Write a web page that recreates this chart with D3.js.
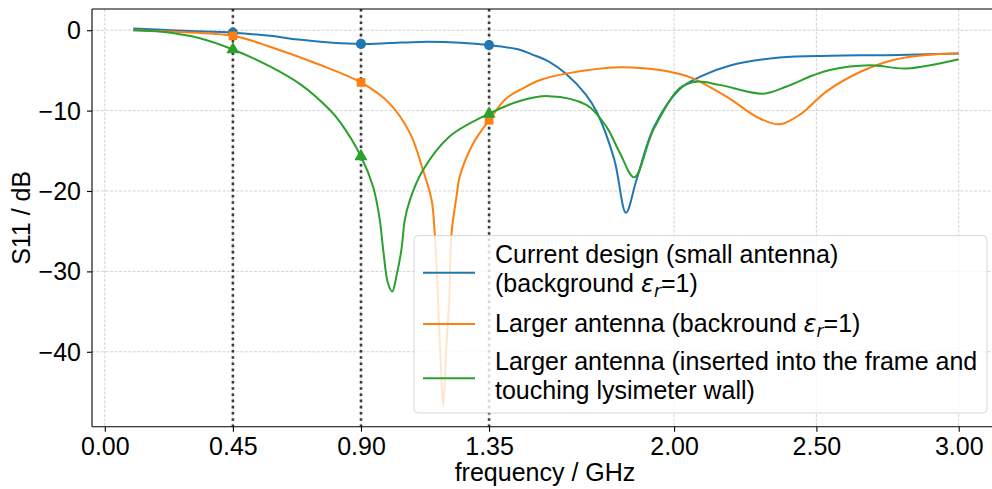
<!DOCTYPE html>
<html lang="en">
<head>
  <meta charset="UTF-8">
  <title>S11 comparison</title>
  <script src="https://cdn.jsdelivr.net/npm/d3@7"></script>
  <style>
    body { margin: 0; background: #fff; }
    svg text { font-family: "Liberation Sans", Arial, sans-serif; fill: #000; }
  </style>
</head>
<body>
<div id="chart"></div>
<script>
  // data (frequency in GHz, S11 in dB)
  var blueFreq = [0.10, 0.20, 0.30, 0.45, 0.58, 0.69, 0.80, 0.90, 1.00, 1.11, 1.25, 1.35, 1.46, 1.50, 1.56, 1.62, 1.69, 1.73, 1.79, 1.831, 1.868, 1.93, 2.02, 2.09, 2.20, 2.37, 2.55, 2.75, 3.00];
  var blueS11  = [0.2, 0.05, -0.1, -0.3, -0.7, -1.2, -1.55, -1.7, -1.6, -1.45, -1.55, -1.85, -2.45, -3.0, -3.9, -5.4, -8.0, -10.3, -16.1, -22.7, -18.6, -12.0, -7.3, -5.8, -4.35, -3.4, -3.17, -3.1, -2.9];

  var orangeFreq = [0.10, 0.25, 0.45, 0.58, 0.755, 0.90, 1.00, 1.072, 1.118, 1.148, 1.159, 1.171, 1.178, 1.189, 1.199, 1.21, 1.218, 1.236, 1.247, 1.294, 1.35, 1.41, 1.46, 1.53, 1.62, 1.81, 1.95, 2.02, 2.066, 2.184, 2.30, 2.372, 2.442, 2.536, 2.653, 2.77, 2.887, 3.00];
  var orangeS11  = [0.0, -0.2, -0.7, -2.05, -4.3, -6.5, -9.1, -12.8, -17.4, -21.1, -25.2, -33.6, -39.8, -46.8, -39.8, -33.6, -25.3, -20.6, -18.2, -14.1, -11.2, -8.5, -7.4, -6.2, -5.4, -4.6, -4.95, -5.45, -6.0, -8.27, -10.96, -11.7, -10.5, -7.6, -5.2, -3.7, -3.08, -2.9];

  var greenFreq = [0.10, 0.20, 0.334, 0.45, 0.58, 0.69, 0.79, 0.826, 0.90, 0.943, 0.966, 0.978, 0.995, 1.01, 1.025, 1.042, 1.054, 1.072, 1.118, 1.212, 1.349, 1.458, 1.56, 1.692, 1.762, 1.81, 1.86, 1.927, 2.02, 2.079, 2.16, 2.313, 2.395, 2.489, 2.547, 2.688, 2.817, 3.00];
  var greenS11  = [0.0, -0.2, -1.0, -2.4, -4.5, -6.8, -9.9, -11.4, -15.7, -19.5, -23.6, -27.3, -31.5, -32.5, -30.5, -27.3, -23.6, -21.1, -17.4, -13.2, -10.4, -8.8, -8.2, -9.3, -12.0, -15.3, -18.3, -12.4, -7.2, -6.4, -6.8, -7.9, -7.0, -5.6, -4.95, -4.37, -4.75, -3.6];

  // marked frequencies (dotted lines) and marker values
  var markFreq = [0.45, 0.90, 1.35];
  var blueMarks = [-0.3, -1.7, -1.85];
  var orangeMarks = [-0.7, -6.5, -11.2];
  var greenMarks = [-2.4, -15.7, -10.4];

  var xTicks = [0, 0.45, 0.90, 1.35, 2.00, 2.50, 3.00];
  var yTicks = [0, -10, -20, -30, -40];

  var legendLines = [
    ["Current design (small antenna)", "(background |=1)"],
    ["Larger antenna (backround |=1)"],
    ["Larger antenna (inserted into the frame and", "touching lysimeter wall)"]
  ];

  var width = 992, height = 489;
  var mLeft = 92, mRight = 1000, mTop = 9, mBottom = 426.7;
  var colors = ["#1f77b4", "#ff7f0e", "#2ca02c"];
  var fs = "25px";

  var x = d3.scaleLinear().domain([-0.045, 3.145]).range([mLeft, mRight]);
  var y = d3.scaleLinear().domain([2.64, -49.32]).range([mTop, mBottom]);

  var svg = d3.select("#chart").append("svg")
    .attr("width", width)
    .attr("height", height);

  // grid
  var grid = svg.append("g");
  grid.selectAll(".gx").data(xTicks).enter().append("line")
    .attr("x1", function(d) { return x(d); }).attr("x2", function(d) { return x(d); })
    .attr("y1", mTop).attr("y2", mBottom)
    .attr("stroke", "#c8c8c8").attr("stroke-width", 0.8).attr("stroke-dasharray", "3,1.5");
  grid.selectAll(".gy").data(yTicks).enter().append("line")
    .attr("x1", mLeft).attr("x2", mRight)
    .attr("y1", function(d) { return y(d); }).attr("y2", function(d) { return y(d); })
    .attr("stroke", "#c8c8c8").attr("stroke-width", 0.8).attr("stroke-dasharray", "3,1.5");

  // dotted vertical marks
  svg.selectAll(".vmark").data(markFreq).enter().append("line")
    .attr("x1", function(d) { return x(d); }).attr("x2", function(d) { return x(d); })
    .attr("y1", mTop).attr("y2", mBottom)
    .attr("stroke", "#3a3a3a").attr("stroke-width", 2.6).attr("stroke-dasharray", "2.6,3.6");

  // curves
  var series = [
    { f: blueFreq, v: blueS11, marks: blueMarks, shape: d3.symbolCircle },
    { f: orangeFreq, v: orangeS11, marks: orangeMarks, shape: d3.symbolSquare },
    { f: greenFreq, v: greenS11, marks: greenMarks, shape: d3.symbolTriangle }
  ];

  var line = d3.line()
    .x(function(d) { return x(d[0]); })
    .y(function(d) { return y(d[1]); })
    .curve(d3.curveCatmullRom.alpha(0.5));

  series.forEach(function(s, i) {
    svg.append("path")
      .attr("d", line(d3.zip(s.f, s.v)))
      .attr("fill", "none")
      .attr("stroke", colors[i])
      .attr("stroke-width", 2);
    svg.selectAll(".m" + i).data(d3.zip(markFreq, s.marks)).enter().append("path")
      .attr("d", d3.symbol().type(s.shape).size(i == 0 ? 80 : 75))
      .attr("transform", function(d) { return "translate(" + x(d[0]) + "," + y(d[1]) + ")"; })
      .attr("fill", colors[i]);
  });

  // spines
  svg.append("line").attr("x1", mLeft).attr("x2", mLeft).attr("y1", mTop).attr("y2", mBottom)
    .attr("stroke", "#000").attr("stroke-width", 1.1);
  svg.append("line").attr("x1", mLeft).attr("x2", mRight).attr("y1", mBottom).attr("y2", mBottom)
    .attr("stroke", "#000").attr("stroke-width", 1.1);
  svg.append("line").attr("x1", mLeft).attr("x2", mRight).attr("y1", mTop).attr("y2", mTop)
    .attr("stroke", "#000").attr("stroke-width", 1.1);

  // axes
  var xAxis = svg.append("g")
    .attr("transform", "translate(0," + mBottom + ")")
    .call(d3.axisBottom(x).tickValues(xTicks).tickFormat(d3.format(".2f")).tickSize(5).tickPadding(5));
  var yAxis = svg.append("g")
    .attr("transform", "translate(" + mLeft + ",0)")
    .call(d3.axisLeft(y).tickValues(yTicks).tickFormat(d3.format("d")).tickSize(5).tickPadding(6));
  [xAxis, yAxis].forEach(function(a) {
    a.select(".domain").remove();
    a.selectAll("line").attr("stroke", "#000").attr("stroke-width", 1.1);
    a.selectAll("text").style("font-size", fs).attr("fill", "#000");
  });
  xAxis.selectAll("text").attr("dy", "0.75em");
  yAxis.selectAll("text").attr("dy", "0.34em");

  svg.append("text")
    .attr("x", 545).attr("y", 481)
    .attr("text-anchor", "middle")
    .style("font-size", fs)
    .text("frequency / GHz");
  svg.append("text")
    .attr("transform", "translate(30," + ((mTop + mBottom) / 2) + ") rotate(-90)")
    .attr("text-anchor", "middle")
    .style("font-size", fs)
    .text("S11 / dB");

  // legend
  var lg = svg.append("g");
  lg.append("rect")
    .attr("x", 414).attr("y", 235.7).attr("width", 573).attr("height", 177.3)
    .attr("rx", 4).attr("ry", 4)
    .attr("fill", "#fff").attr("fill-opacity", 0.8)
    .attr("stroke", "#cccccc").attr("stroke-opacity", 0.8).attr("stroke-width", 1);

  var handleY = [272.7, 324, 378.3];
  var baselines = [[263, 292], [331.5], [370, 398.5]];
  legendLines.forEach(function(lines, i) {
    lg.append("line")
      .attr("x1", 423).attr("x2", 475)
      .attr("y1", handleY[i]).attr("y2", handleY[i])
      .attr("stroke", colors[i]).attr("stroke-width", 2);
    lines.forEach(function(txt, j) {
      var t = lg.append("text")
        .attr("x", 495).attr("y", baselines[i][j])
        .style("font-size", fs);
      var parts = txt.split("|");
      t.append("tspan").text(parts[0]);
      if (parts.length > 1) {
        t.append("tspan").style("font-style", "italic").style("font-family", "'DejaVu Sans', sans-serif").style("font-size", "24px").text("\u03b5");
        t.append("tspan").style("font-style", "italic").style("font-family", "'DejaVu Sans', sans-serif").style("font-size", "17px").attr("dy", 5).text("r");
        t.append("tspan").attr("dy", -5).text(parts[1]);
      }
    });
  });
</script>
</body>
</html>
